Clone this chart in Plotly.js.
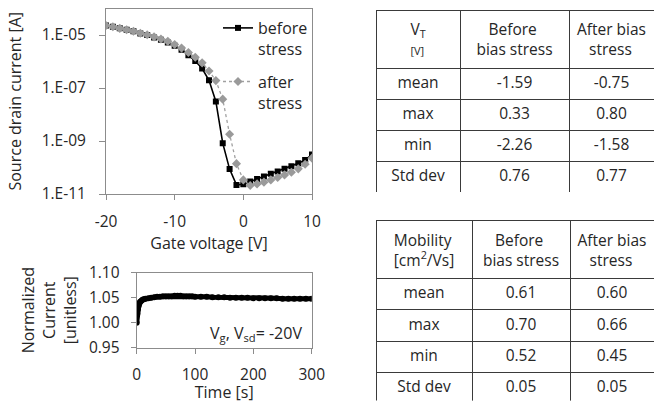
<!DOCTYPE html>
<html>
<head>
<meta charset="utf-8">
<script src="https://cdn.plot.ly/plotly-3.0.1.min.js"></script>
<style>html,body{margin:0;padding:0;background:#fff;}#chart{width:654px;height:403px;}</style>
</head>
<body>
<div id="chart"></div>
<script>
// ---- Transfer curve data ----
var gateVoltage = [-20,-19,-18,-17,-16,-15,-14,-13,-12,-11,-10,-9,-8,-7,-6,-5,-4,-3,-2,-1,0,1,2,3,4,5,6,7,8,9,10];
var currentBefore = [2.29e-5,2.04e-5,1.78e-5,1.58e-5,1.38e-5,1.15e-5,1.00e-5,8.1e-6,6.6e-6,5.2e-6,3.9e-6,2.75e-6,1.74e-6,1.05e-6,5.4e-7,1.95e-7,3.1e-8,8.3e-10,8.7e-11,2.2e-11,2.35e-11,2.95e-11,3.7e-11,4.6e-11,5.75e-11,7.1e-11,8.9e-11,1.12e-10,1.45e-10,1.9e-10,3.1e-10];
var currentAfter = [2.29e-5,2.04e-5,1.78e-5,1.58e-5,1.38e-5,1.17e-5,1.02e-5,8.5e-6,7.1e-6,5.75e-6,4.4e-6,3.2e-6,2.2e-6,1.45e-6,8.9e-7,4.4e-7,1.9e-7,3.8e-8,1.8e-9,1.4e-10,3.4e-11,2.1e-11,2.4e-11,2.8e-11,3.4e-11,4.2e-11,5.25e-11,6.6e-11,8.9e-11,1.32e-10,2.25e-10];
var seriesNames = ["before<br>stress", "after<br>stress"];
var gateTickVals = [-20, -10, 0, 10];
var gateTickText = ["-20", "-10", "0", "10"];
var logTickVals = [1e-11, 1e-9, 1e-7, 1e-5];
var logTickText = ["1.E-11", "1.E-09", "1.E-07", "1.E-05"];

// ---- Bias stress time data ----
var stressTime = [0,1,2,3,4,5,6,8,10,12,15,20,25,30,35,40,45,50,55,60,65,70,75,80,85,90,95,100,110,120,130,140,150,160,170,180,190,200,210,220,230,240,250,260,270,280,290,300];
var normCurrent = [1.000,1.018,1.027,1.033,1.037,1.040,1.042,1.044,1.046,1.047,1.048,1.049,1.050,1.051,1.052,1.052,1.053,1.053,1.053,1.053,1.054,1.054,1.054,1.053,1.053,1.053,1.053,1.052,1.052,1.052,1.051,1.051,1.051,1.050,1.050,1.050,1.050,1.049,1.049,1.049,1.049,1.049,1.048,1.048,1.048,1.048,1.048,1.048];
var timeTickVals = [0, 100, 200, 300];
var normTickVals = [0.95, 1.00, 1.05, 1.10];
var normTickText = ["0.95", "1.00", "1.05", "1.10"];
var stressLabel = "V<sub>g</sub>, V<sub>sd</sub>= -20V";

// ---- Tables ----
var vtHeader = ["V<sub>T</sub><br><span style='font-size:11px'>[V]</span>", "&nbsp;&nbsp;&nbsp;Before<br>bias stress", "After bias<br>&nbsp;&nbsp;&nbsp;stress"];
var statNames = ["mean", "max", "min", "Std dev"];
var vtBefore = ["-1.59", "0.33", "-2.26", "0.76"];
var vtAfter = ["-0.75", "0.80", "-1.58", "0.77"];
var mobHeader = ["Mobility<br>[cm<sup>2</sup>/Vs]", "&nbsp;&nbsp;&nbsp;Before<br>bias stress", "After bias<br>&nbsp;&nbsp;&nbsp;stress"];
var mobBefore = ["0.61", "0.70", "0.52", "0.05"];
var mobAfter = ["0.60", "0.66", "0.45", "0.05"];

var W = 654, H = 403;
function px(x){ return x / W; }
function py(y){ return 1 - y / H; }

var FONT = "Open Sans, Noto Sans, sans-serif";
var TXT = "#262626";
var AX = "#8c8c8c";
var GRID = "#3a3a3a";

var traces = [
  {x: gateVoltage, y: currentBefore, name: seriesNames[0], legendgroup: "b", type: "scatter", mode: "lines+markers",
   xaxis: "x", yaxis: "y", line: {color: "#000", width: 1.6}, marker: {symbol: "square", size: 6, color: "#000"}},
  {x: gateVoltage, y: currentAfter, name: seriesNames[1], legendgroup: "a", type: "scatter", mode: "lines+markers",
   xaxis: "x", yaxis: "y", line: {color: "#a0a0a0", width: 1.3, dash: "dot"}, marker: {symbol: "diamond", size: 7, color: "#9a9a9a"}},
  {x: stressTime, y: normCurrent, type: "scatter", mode: "lines+markers", showlegend: false,
   xaxis: "x2", yaxis: "y2", line: {color: "#000", width: 5}, marker: {symbol: "circle", size: 6, color: "#000"}},
  {type: "table", domain: {x: [px(376), 1], y: [py(192), py(10)]}, columnwidth: [84, 109, 85],
   header: {values: vtHeader, align: "center", height: 55, fill: {color: "#fff"}, line: {color: GRID, width: 1},
            font: {family: FONT, size: 15.5, color: TXT}},
   cells: {values: [statNames, vtBefore, vtAfter], align: "center", height: 31, fill: {color: "#fff"}, line: {color: GRID, width: 1},
           font: {family: FONT, size: 15.5, color: TXT}}},
  {type: "table", domain: {x: [px(376), 1], y: [py(401), py(220.5)]}, columnwidth: [96, 98, 84],
   header: {values: mobHeader, align: "center", height: 53, fill: {color: "#fff"}, line: {color: GRID, width: 1},
            font: {family: FONT, size: 15.5, color: TXT}},
   cells: {values: [statNames, mobBefore, mobAfter], align: "center", height: 31.3, fill: {color: "#fff"}, line: {color: GRID, width: 1},
           font: {family: FONT, size: 15.5, color: TXT}}}
];

var layout = {
  width: W, height: H,
  margin: {l: 0, r: 0, t: 0, b: 0},
  paper_bgcolor: "#fff", plot_bgcolor: "#fff",
  font: {family: FONT, size: 15.5, color: TXT},
  showlegend: true,
  legend: {x: px(218), y: py(11), xanchor: "left", yanchor: "top", bgcolor: "rgba(0,0,0,0)",
           font: {family: FONT, size: 16, color: TXT}, valign: "top", tracegroupgap: 9},
  xaxis: {domain: [px(106), px(312)], range: [-20, 10], tickvals: gateTickVals, ticktext: gateTickText, anchor: "y",
          showgrid: false, zeroline: false, showline: true, mirror: true, linecolor: AX, linewidth: 1,
          ticks: "outside", ticklen: 5, tickcolor: AX, ticklabelstandoff: 8,
          title: {text: "Gate voltage [V]", font: {size: 16}, standoff: 3}},
  yaxis: {domain: [py(194), py(8.5)], type: "log", range: [-11, -4], tickvals: logTickVals, ticktext: logTickText, anchor: "x",
          showgrid: false, zeroline: false, showline: true, mirror: true, linecolor: AX, linewidth: 1,
          ticks: "outside", ticklen: 6, tickcolor: AX, ticklabelstandoff: 10,
          title: {text: "Source drain current [A]", font: {size: 16}, standoff: 16}},
  xaxis2: {domain: [px(136.7), px(311.7)], range: [0, 300], tickvals: timeTickVals, anchor: "y2",
           showgrid: false, zeroline: false, showline: true, mirror: true, linecolor: AX, linewidth: 1,
           ticks: "outside", ticklen: 5, tickcolor: AX, ticklabelstandoff: 8,
           title: {text: "Time [s]", font: {size: 16}, standoff: 0}},
  yaxis2: {domain: [py(347.7), py(272.7)], range: [0.95, 1.10], tickvals: normTickVals, ticktext: normTickText, anchor: "x2",
           showgrid: false, zeroline: false, showline: true, mirror: true, linecolor: AX, linewidth: 1,
           ticks: "outside", ticklen: 5, tickcolor: AX, ticklabelstandoff: 8,
           title: {text: "Normalized<br>Current<br>[unitless]", font: {size: 16}, standoff: 8}},
  annotations: [
    {text: stressLabel, xref: "paper", yref: "paper", x: px(304), y: py(333), xanchor: "right", yanchor: "middle",
     showarrow: false, font: {family: FONT, size: 16, color: TXT}}
  ]
};

Plotly.newPlot("chart", traces, layout, {displayModeBar: false, staticPlot: true});
</script>
</body>
</html>
